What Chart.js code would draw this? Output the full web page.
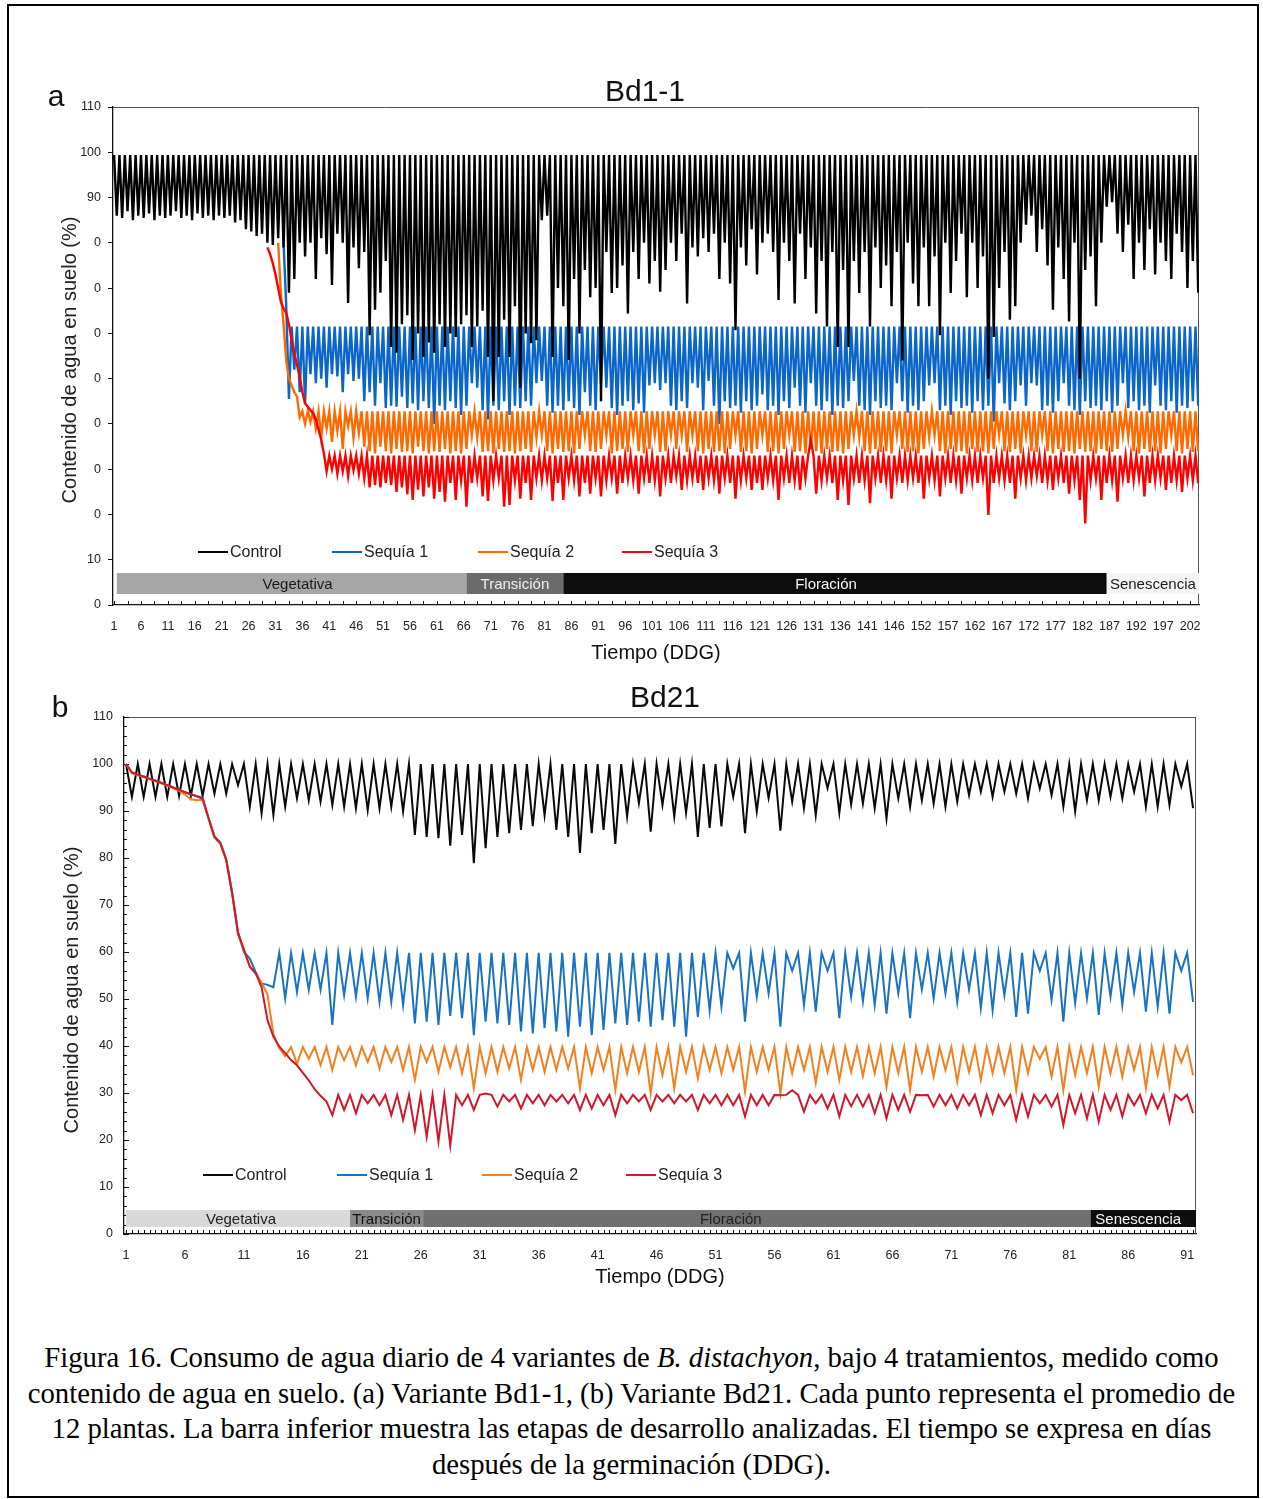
<!DOCTYPE html>
<html lang="es">
<head>
<meta charset="utf-8">
<title>Figura 16</title>
<script src="https://cdn.jsdelivr.net/npm/chart.js@4.4.1/dist/chart.umd.min.js"></script>
<style>
  html, body { margin: 0; padding: 0; background: #fff; }
  body { width: 1263px; height: 1499px; position: relative; overflow: hidden; }
  .frame { position: absolute; left: 7px; top: 4px; width: 1252px; height: 1494px; border: 2px solid #000; box-sizing: border-box; }
  canvas { position: absolute; left: 0; }
  #chartA { top: 0; }
  #chartB { top: 680px; }
  .caption { position: absolute; left: 10px; width: 1243px; top: 1340px; font-family: "Liberation Serif", "Times New Roman", serif; font-size: 28.7px; line-height: 35.6px; text-align: center; color: #000; }
</style>
</head>
<body>
<div class="frame"></div>
<canvas id="chartA" width="1263" height="680"></canvas>
<canvas id="chartB" width="1263" height="620"></canvas>
<div class="caption">Figura 16. Consumo de agua diario de 4 variantes de <i>B. distachyon</i>, bajo 4 tratamientos, medido como<br>contenido de agua en suelo. (a) Variante Bd1-1, (b) Variante Bd21. Cada punto representa el promedio de<br>12 plantas. La barra inferior muestra las etapas de desarrollo analizadas. El tiempo se expresa en días<br>después de la germinación (DDG).</div>
<script>
'use strict';

// Series and phase names (shared by both panels)
const seriesNames = ['Control', 'Sequía 1', 'Sequía 2', 'Sequía 3'];
const phaseNames = ['Vegetativa', 'Transición', 'Floración', 'Senescencia'];

// ---- Panel a: Bd1-1 (two readings per day, 202 days) ----
const dayLabelsA = ['1', '6', '11', '16', '21', '26', '31', '36', '41', '46', '51', '56', '61', '66', '71', '76', '81', '86', '91', '96',
    '101', '106', '111', '116', '121', '126', '131', '136', '141', '146', '152', '157', '162', '167', '172', '177', '182', '187', '192', '197', '202'];
const yLabelsA = ['0', '10', '0', '0', '0', '0', '0', '0', '0', '90', '100', '110'];
const phaseDaysA = [1.5, 66.5, 84.5, 185.5, 202.7];

// peak (after watering) levels
const peaksA = [99.4, 61.5, 42.8, 33.0];

// daily minimum before watering, control, days 1-202
const controlTroughsA = [
    86, 85.5, 87, 85, 86, 85.5, 86.5, 85, 86, 85.5,
    86, 87, 85.5, 86, 85, 86.5, 85.5, 86, 85, 86,
    85.5, 86, 84.5, 85, 83, 82.5, 81.5, 82, 80, 79.5,
    81, 79, 69, 72, 80, 77, 80, 72, 81, 77.5,
    70.7, 82, 80, 66.7, 79, 74.4, 78, 59.6, 65.2, 69,
    76, 57, 55.7, 62, 64, 54.1, 60, 54.8, 58, 55.7,
    62, 57, 60, 59.2, 62, 64, 57, 61.5, 65, 54.8,
    45, 54.8, 63, 54.8, 66, 48, 60, 57.8, 58.5, 85,
    86, 54.8, 70, 66, 54.1, 72, 60, 74, 68, 70,
    45, 78, 68.9, 70, 75, 64.4, 78, 72, 80, 71,
    76, 69.2, 74, 80, 76, 82, 66.6, 79, 77, 81,
    78, 82, 72, 80, 71, 60.7, 79, 75, 83, 73,
    80, 82, 78, 67.4, 80, 76, 66.6, 82, 72, 79,
    64.4, 76, 61.5, 78, 57, 74, 57, 76, 68.9, 78,
    61.5, 79, 70, 75, 66, 78, 54, 80, 71, 66,
    79, 66, 77, 59.6, 80, 68.9, 76, 82, 68, 80,
    70, 77, 50, 59.2, 70, 78, 63, 66, 80, 84,
    86, 78, 83, 75, 65.2, 79, 72, 62.6, 80, 50,
    74, 77, 66, 80, 88, 89, 82, 78, 84, 72,
    80, 74, 83, 73, 80, 76, 72, 82, 78, 70,
    76, 69
];

// Sequía 1: fall from the control band, then days 33-202
const s1LeadA = [80, 66];
const s1TroughsA = [
    45.5, 52, 47, 44.5, 51, 49, 50, 48, 51, 50.5,
    47, 51, 49.5, 50, 45, 47, 44, 49, 43.5, 44,
    43.8, 46, 43.5, 44.5, 43, 45, 43.5, 40, 44, 43,
    45, 43.5, 42, 44, 49, 48, 43, 41, 44, 43,
    45, 42, 44, 43.5, 45, 44, 49, 49.5, 44, 42.5,
    44, 43, 45, 43.5, 42, 47, 44, 43, 49, 48,
    43.5, 42, 44, 45, 43, 44.5, 42.5, 48.5, 49, 47.5,
    49, 44, 43, 45, 43.5, 49, 48, 43, 49.5, 44,
    40, 45, 43.5, 44, 42.5, 45, 43, 44, 46.5, 43,
    44, 42, 45, 43.5, 48, 44, 42.5, 49, 44, 43,
    45, 42, 44, 43.5, 45, 49.5, 44, 43, 42, 45,
    43.5, 44, 43, 49, 45, 42.5, 44, 43, 45, 48.5,
    49, 43, 44, 42, 45, 43.5, 44, 42.5, 45, 43,
    44, 40.5, 49, 44.5, 43, 45, 48.5, 44, 49, 48.5,
    43, 44, 42.5, 45, 49, 44, 43, 42, 45, 43.5,
    44, 43, 45, 42.5, 44, 49, 43.5, 45, 43, 44,
    42.5, 48.5, 44, 43, 45, 42.5, 44, 43.5, 45, 44
];

// Sequía 2: fall, then days 35-202
const s2LeadA = [80, 69, 62, 54, 50, 48.5, 47, 46];
const s2TroughsA = [
    41.5, 40, 40.5, 39, 37, 39, 36, 38.5, 34.5, 39.5,
    37, 38, 35, 34, 33.5, 35, 34, 33.5, 34.5, 33.8,
    34, 33.5, 35, 34, 33.5, 34, 33.8, 34.5, 33.5, 34,
    33.5, 34.5, 37.5, 37, 33.8, 34, 33.5, 34.5, 33.8, 34,
    33.5, 34, 34.5, 33.8, 37, 37.5, 34, 33.5, 34.5, 33.8,
    34, 33.5, 34.5, 37.5, 34, 33.8, 34.5, 37.5, 33.5, 34,
    34.5, 33.8, 37.5, 34, 33.5, 34.5, 37.5, 33.8, 34, 37.5,
    34.5, 37.5, 33.8, 37.5, 34, 33.5, 34.5, 33.8, 34, 33.5,
    34.5, 37.5, 33.8, 34, 33.5, 34.5, 37.5, 33.8, 34, 33.5,
    34.5, 37.5, 33.8, 34, 33.5, 34.5, 34, 33.5, 34.5, 33.8,
    34, 33.5, 34.5, 37.5, 37, 34, 33.5, 34.5, 33.8, 34,
    33.5, 37.5, 34.5, 33.8, 34, 33.5, 34.5, 37, 37.5, 34,
    33.5, 34.5, 33.8, 34, 33.5, 34.5, 33.8, 34, 33.5, 34.5,
    37.5, 34, 33.8, 34.5, 33.5, 37.5, 34, 33.8, 37.5, 34,
    33.5, 34.5, 33.8, 34, 33.5, 34.5, 33.8, 34, 33.5, 34.5,
    34, 33.8, 34.5, 37.5, 37, 34, 33.5, 34.5, 33.8, 34,
    33.5, 34.5, 37.5, 34, 33.5, 34.5, 33.8, 34
];

// Sequía 3: fall, then days 40-202
const s3LeadA = [79, 77.5, 75.5, 73, 70, 67, 65.5, 64.5, 62, 58.5, 55.6, 53, 50.5, 47, 44.5, 43.8, 43, 42.3, 41, 38.8, 36.5, 33.5];
const s3TroughsA = [
    29.5, 30, 29, 29.5, 28.5, 29.8, 29, 28, 26, 26.5,
    26, 27, 26.5, 25, 26, 24.5, 23.2, 25.5, 24, 26,
    23.5, 25, 22.8, 27, 23.2, 27.5, 21.7, 27, 28, 24,
    23, 27.5, 28, 21.7, 22.1, 27.5, 23.5, 27, 23.2, 28,
    27.5, 28, 23, 27, 23.2, 28, 27.5, 24, 27, 24.6,
    28, 24, 27.5, 28, 24.6, 27, 28, 27.5, 24.6, 28,
    27, 27.5, 24, 28, 27, 28.5, 25.4, 27.5, 28, 27,
    25.4, 28, 27.5, 24.6, 28, 27, 23.5, 27.5, 28, 25.4,
    27, 25.4, 28, 27.5, 23.2, 28, 27, 27.5, 25.4, 28,
    36.5, 24.6, 27.5, 28, 27, 23.2, 27.5, 22.1, 28, 27,
    27.5, 22.5, 28, 27, 27.5, 23.5, 28, 27, 27.5, 28,
    27, 23.5, 28, 27.5, 24, 28, 27, 27.5, 24.6, 28,
    27.5, 27, 28, 19.9, 27, 28, 27.5, 27, 23.5, 28,
    27.5, 28, 28.5, 27, 27.5, 25.4, 28, 27, 24.6, 27.5,
    23.2, 18, 27.5, 28, 23.2, 27, 27.5, 22.8, 28, 27,
    27.5, 28, 24, 27, 27.5, 28, 25.4, 27, 27.5, 25,
    28, 27.5, 26.9
];

// ---- Panel b: Bd21 (two readings per day, 91 days) ----
const dayLabelsB = ['1', '6', '11', '16', '21', '26', '31', '36', '41', '46', '51', '56', '61', '66', '71', '76', '81', '86', '91'];
const phaseDaysB = [0.85, 20, 26.2, 82.8, 91.75];
const peaksB = [100, 59.8, 39.8, 29.6];

const controlTroughsB = [
    93.0, 93.0, 93.0, 93.0, 93.2, 93.2, 93.2, 93.7, 93.7, 95.5,
    90.9, 89.5, 89.2, 90.9, 92.7, 92.3, 92.0, 91.3, 90.9, 90.6,
    90.2, 90.6, 90.9, 89.9, 84.9, 84.5, 84.2, 82.6, 84.9, 78.9,
    82.1, 84.5, 85.3, 86.0, 86.8, 89.1, 86.0, 84.5, 81.1, 85.3,
    86.0, 83.0, 88.8, 91.7, 85.6, 91.3, 88.8, 89.6, 84.5, 86.4,
    86.7, 93.0, 85.3, 89.9, 92.8, 85.8, 92.0, 90.6, 89.1, 94.9,
    89.6, 91.4, 91.6, 90.6, 88.4, 92.7, 90.9, 92.3, 91.6, 90.9,
    92.0, 93.4, 94.1, 93.0, 94.1, 93.7, 92.7, 94.8, 93.4, 90.9,
    89.9, 92.3, 92.3, 93.0, 92.7, 94.1, 90.9, 90.9, 91.3, 95.2,
    90.6
];

const s1LeadB = [100, 98.2, 97.6, 97.4, 96.8, 96.5, 95.9, 95.5, 95.0, 94.4, 94.0, 93.5, 93.2, 92.8,
    88.5, 84.6, 83.3, 79.8, 72.8, 64.3, 60.0, 58.6, 55.7, 53.3, 53.0];
const s1TroughsB = [
    52.5, 50.1, 51.5, 52.0, 52.0, 44.5, 50.8, 50.5, 50.1, 49.4,
    49.4, 48.7, 44.8, 45.2, 44.5, 46.4, 45.9, 42.3, 45.2, 44.8,
    44.5, 43.1, 42.7, 43.8, 43.1, 42.0, 44.1, 42.3, 43.4, 44.8,
    44.5, 45.2, 44.1, 45.5, 44.1, 42.0, 46.2, 47.6, 48.4, 56.5,
    45.2, 50.5, 51.2, 44.1, 56.0, 48.7, 47.3, 56.0, 45.9, 50.5,
    49.5, 48.7, 46.9, 51.2, 45.9, 52.0, 50.1, 51.2, 49.4, 52.0,
    48.0, 47.6, 50.8, 46.2, 46.9, 56.0, 49.8, 45.2, 49.1, 50.1,
    46.6, 50.5, 48.7, 51.5, 47.3, 48.4, 46.9, 56.0, 49.4
];

const s2LeadB = [100, 98.0, 97.7, 97.2, 96.8, 96.3, 95.9, 95.4, 94.8, 94.3, 93.5, 92.5, 92.3, 92.4,
    88.3, 84.3, 83.0, 79.5, 72.4, 63.8, 60.4, 56.8, 55.4, 53.4, 51.0, 42.5, 39.5];
const s2TroughsB = [
    37.8, 36.2, 37.3, 35.9, 34.9, 37.0, 35.9, 36.6, 35.2, 36.6,
    34.9, 32.8, 36.6, 34.5, 35.5, 34.2, 31.0, 34.2, 34.5, 35.2,
    32.8, 34.9, 34.5, 34.9, 35.2, 31.0, 34.2, 34.9, 30.6, 34.2,
    34.5, 29.9, 33.8, 31.0, 34.5, 33.1, 34.9, 34.2, 34.9, 30.3,
    34.5, 34.9, 29.9, 34.2, 34.9, 32.1, 34.5, 32.8, 34.5, 33.6,
    34.2, 31.3, 34.2, 30.6, 34.5, 33.5, 34.9, 32.4, 34.5, 32.8,
    34.2, 34.2, 30.6, 34.2, 37.3, 33.5, 30.6, 33.8, 34.2, 31.3,
    34.2, 33.5, 34.9, 31.0, 33.8, 31.3, 36.5, 33.8
];

const s3LeadB = [100, 98.2, 97.8, 97.3, 96.9, 96.4, 96.0, 95.5, 95.0, 94.5, 94.0, 93.6, 93.1, 92.6,
    88.5, 84.5, 83.2, 79.6, 72.5, 64.0, 60.5, 56.9, 55.5, 52.5, 45.5, 42.0, 39.9, 38.5, 37.0,
    35.9, 34.3, 32.7, 30.8, 29.4, 28.2];
const s3TroughsB = [
    25.3, 26.4, 25.7, 27.8, 27.4, 25.3, 24.3, 22.1, 20.7, 19.7,
    18.8, 27.4, 26.4, 29.9, 27.1, 28.2, 26.7, 27.8, 27.4, 28.2,
    27.8, 26.4, 26.7, 27.4, 25.3, 27.8, 28.2, 26.4, 28.2, 27.8,
    28.2, 26.4, 27.8, 27.4, 27.4, 25.0, 27.4, 27.4, 29.5, 30.6,
    26.0, 27.8, 26.7, 25.0, 27.2, 27.1, 25.7, 24.6, 26.4, 26.0,
    29.5, 27.1, 27.4, 26.7, 27.4, 25.3, 25.7, 27.4, 24.3, 25.0,
    27.8, 27.1, 23.2, 25.7, 24.6, 23.9, 26.4, 25.0, 27.4, 25.7,
    26.7, 23.9, 28.5, 25.7
];

const fam = '"Liberation Sans", Arial, Helvetica, sans-serif';

// Interleave watering peaks with the daily minima
function sawtooth(lead, prefix, peak, troughs) {
    const out = new Array(lead).fill(null).concat(prefix);
    troughs.forEach((t, k) => {
        if (k > 0) out.push(peak);
        out.push(t);
    });
    return out;
}

// Frame, inner tick marks, phase bars, legend and titles
const decor = {
    id: 'decor',
    beforeDatasetsDraw(chart, args, o) {
        const { ctx, chartArea: a, scales: { x, y } } = chart;
        ctx.save();
        ctx.strokeStyle = o.frameColor;
        ctx.lineWidth = 1;
        ctx.beginPath();
        ctx.moveTo(a.left, a.top + 0.5);
        ctx.lineTo(a.right, a.top + 0.5);
        ctx.moveTo(a.right - 0.5, a.top);
        ctx.lineTo(a.right - 0.5, a.bottom);
        ctx.stroke();

        ctx.strokeStyle = '#111';
        ctx.beginPath();
        for (let c = 0; c <= o.xTickMax; c += o.xTickStep) {
            const px = Math.round(x.getPixelForValue(c)) + 0.5;
            ctx.moveTo(px, a.bottom);
            ctx.lineTo(px, a.bottom - o.xTickLen);
        }
        if (o.yMinorStep) {
            for (let v = 0; v <= 110; v += o.yMinorStep) {
                const py = Math.round(y.getPixelForValue(v)) + 0.5;
                ctx.moveTo(a.left, py);
                ctx.lineTo(a.left + (v % 10 === 0 ? 5 : 3), py);
            }
        }
        ctx.stroke();
        ctx.restore();
    },
    afterDatasetsDraw(chart, args, o) {
        const { ctx, chartArea: a, scales: { x, y } } = chart;
        ctx.save();

        // development stages bar
        const yTop = y.getPixelForValue(o.phaseBand[1]);
        const yBot = y.getPixelForValue(o.phaseBand[0]);
        ctx.font = `15px ${fam}`;
        ctx.textAlign = 'center';
        ctx.textBaseline = 'middle';
        for (let k = 0; k < phaseNames.length; k++) {
            const x0 = Math.max(a.left + 2, x.getPixelForValue((o.phaseDays[k] - 1) * 2));
            const x1 = Math.min(a.right, x.getPixelForValue((o.phaseDays[k + 1] - 1) * 2));
            ctx.fillStyle = o.phaseFill[k];
            ctx.fillRect(x0, yTop, x1 - x0, yBot - yTop);
            ctx.fillStyle = o.phaseInk[k];
            ctx.fillText(phaseNames[k], (x0 + x1) / 2 + o.phaseShift[k], (yTop + yBot) / 2 + 1);
        }

        // legend inside the plot
        ctx.font = `16px ${fam}`;
        ctx.textAlign = 'left';
        chart.data.datasets.forEach((ds, k) => {
            const lx = o.legendX[k];
            ctx.strokeStyle = ds.borderColor;
            ctx.lineWidth = 2;
            ctx.beginPath();
            ctx.moveTo(lx, o.legendY);
            ctx.lineTo(lx + 30, o.legendY);
            ctx.stroke();
            ctx.fillStyle = '#222';
            ctx.fillText(ds.label, lx + 32, o.legendY + 1);
        });
        ctx.restore();
    },
    afterDraw(chart, args, o) {
        const { ctx } = chart;
        ctx.save();
        ctx.fillStyle = '#111';
        ctx.textBaseline = 'middle';
        ctx.textAlign = 'center';
        ctx.font = `30px ${fam}`;
        ctx.fillText(o.title, o.titleX, o.titleY);
        ctx.fillText(o.letter, o.letterX, o.letterY);

        ctx.fillStyle = '#222';
        ctx.font = `20px ${fam}`;
        ctx.translate(o.yTitleX, o.yTitleY);
        ctx.rotate(-Math.PI / 2);
        ctx.fillText('Contenido de agua en suelo (%)', 0, 0);
        ctx.restore();
    }
};

function buildChart(id, cfg) {
    const n = cfg.series[0].length;
    return new Chart(document.getElementById(id), {
        type: 'line',
        data: {
            labels: Array.from({ length: n }, (_, i) => i),
            datasets: cfg.series.map((data, k) => ({
                label: seriesNames[k],
                data: data,
                order: cfg.drawOrder[k], // higher = drawn earlier (underneath)
                borderColor: cfg.colors[k],
                borderWidth: cfg.lineWidth,
                pointRadius: 0,
                fill: false,
                tension: 0
            }))
        },
        plugins: [decor],
        options: {
            responsive: false,
            animation: false,
            devicePixelRatio: 1,
            layout: { padding: cfg.padding },
            plugins: {
                legend: { display: false },
                tooltip: { enabled: false },
                decor: cfg.decor
            },
            scales: {
                x: {
                    type: 'linear',
                    min: cfg.xMin,
                    max: cfg.xMax,
                    afterBuildTicks: (s) => { s.ticks = cfg.dayLabels.map((_, k) => ({ value: k * 10 })); },
                    afterFit: (s) => { s.height = cfg.xHeight; },
                    ticks: {
                        autoSkip: false,
                        maxRotation: 0,
                        padding: cfg.xLabelPad,
                        color: '#222',
                        font: { family: fam, size: 12.5 },
                        callback: (v, k) => cfg.dayLabels[k]
                    },
                    grid: { display: false, drawTicks: false },
                    border: { color: '#111', width: 1.3 },
                    title: {
                        display: true,
                        text: 'Tiempo (DDG)',
                        color: '#111',
                        font: { family: fam, size: 20 },
                        padding: { top: 0, bottom: cfg.xTitlePad }
                    }
                },
                y: {
                    min: 0,
                    max: 110,
                    afterFit: (s) => { s.width = cfg.yWidth; },
                    ticks: {
                        stepSize: 10,
                        padding: cfg.yLabelPad,
                        color: '#222',
                        font: { family: fam, size: 12.5 },
                        callback: (v) => cfg.yLabels[Math.round(v / 10)]
                    },
                    grid: cfg.yGrid,
                    border: { color: '#111', width: 1.3 }
                }
            }
        }
    });
}

buildChart('chartA', {
    series: [
        sawtooth(0, [peaksA[0]], peaksA[0], controlTroughsA),
        sawtooth(63, s1LeadA, peaksA[1], s1TroughsA),
        sawtooth(61, s2LeadA, peaksA[2], s2TroughsA),
        sawtooth(57, s3LeadA, peaksA[3], s3TroughsA)
    ],
    drawOrder: [0, 3, 2, 1],
    colors: ['#000000', '#0a66c8', '#ff6a00', '#ff0000'],
    lineWidth: 2.4,
    padding: { left: 55, right: 64, top: 107, bottom: 0 },
    xMin: -0.4,
    xMax: 403.3,
    dayLabels: dayLabelsA,
    yLabels: yLabelsA,
    xHeight: 75,
    xLabelPad: 14,
    xTitlePad: 15,
    yWidth: 58,
    yLabelPad: 7,
    yGrid: { display: true, drawOnChartArea: false, drawTicks: true, tickLength: 5, color: '#111' },
    decor: {
        frameColor: '#555',
        xTickMax: 403, xTickStep: 5, xTickLen: 4,
        yMinorStep: 0,
        phaseBand: [2.43, 7.07],
        phaseDays: phaseDaysA,
        phaseFill: ['#a6a6a6', '#6b6b6b', '#0d0d0d', '#f4f4f4'],
        phaseInk: ['#1a1a1a', '#f0f0f0', '#f5f5f5', '#1a1a1a'],
        phaseShift: [6, 0, -9, 0],
        legendX: [198, 332, 478, 622],
        legendY: 552,
        title: 'Bd1-1', titleX: 645, titleY: 93,
        letter: 'a', letterX: 56, letterY: 98,
        yTitleX: 70, yTitleY: 360
    }
});

buildChart('chartB', {
    series: [
        sawtooth(0, [peaksB[0]], peaksB[0], controlTroughsB),
        sawtooth(0, s1LeadB, peaksB[1], s1TroughsB),
        sawtooth(0, s2LeadB, peaksB[2], s2TroughsB),
        sawtooth(0, s3LeadB, peaksB[3], s3TroughsB)
    ],
    drawOrder: [3, 2, 1, 0],
    colors: ['#0a0a0a', '#1a72c2', '#f08020', '#d0182a'],
    lineWidth: 2,
    padding: { left: 55, right: 67, top: 37, bottom: 0 },
    xMin: -0.34,
    xMax: 181.5,
    dayLabels: dayLabelsB,
    yLabels: ['0', '10', '20', '30', '40', '50', '60', '70', '80', '90', '100', '110'],
    xHeight: 66,
    xLabelPad: 14,
    xTitlePad: 11,
    yWidth: 69,
    yLabelPad: 11,
    yGrid: { display: false, drawTicks: false },
    decor: {
        frameColor: '#555',
        xTickMax: 181, xTickStep: 1, xTickLen: 4,
        yMinorStep: 2,
        phaseBand: [1.49, 5.1],
        phaseDays: phaseDaysB,
        phaseFill: ['#d9d9d9', '#8a8a8a', '#707070', '#0d0d0d'],
        phaseInk: ['#222222', '#111111', '#222222', '#f5f5f5'],
        phaseShift: [3, 0, -26, -5],
        legendX: [203, 337, 482, 626],
        legendY: 495,
        title: 'Bd21', titleX: 665, titleY: 19,
        letter: 'b', letterX: 60, letterY: 29,
        yTitleX: 72, yTitleY: 310
    }
});
</script>
</body>
</html>
